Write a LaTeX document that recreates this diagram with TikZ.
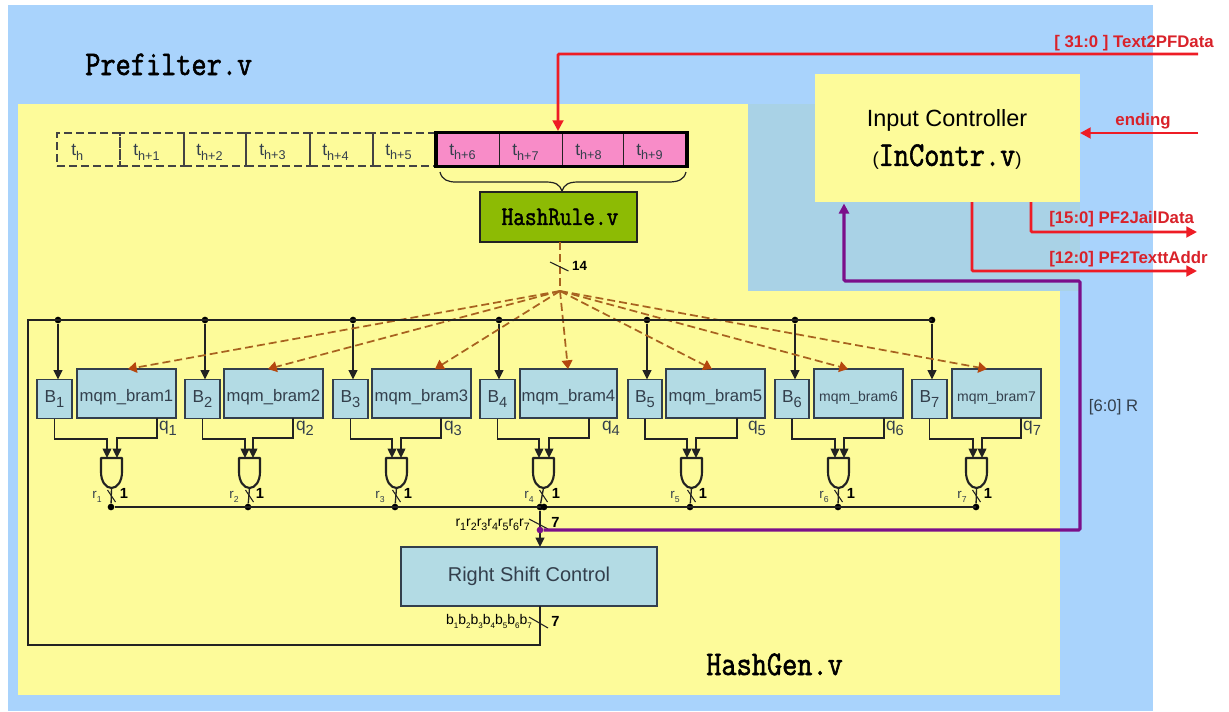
\documentclass[tikz,border=0pt]{standalone}
\usepackage{fontspec}
\setmainfont{Liberation Sans}
\newfontfamily\vfont[FakeBold=1.6,FakeStretch=0.85]{Latin Modern Mono}
\usetikzlibrary{arrows.meta}
\definecolor{bgblue}{HTML}{A9D3FC}
\definecolor{bgyellow}{HTML}{FDFB9A}
\definecolor{bgteal}{HTML}{A9D2E6}
\definecolor{boxteal}{HTML}{B3DBE4}
\definecolor{inkdark}{HTML}{333F4C}
\definecolor{wire}{HTML}{222222}
\definecolor{redline}{HTML}{EE1C25}
\definecolor{redtext}{HTML}{D9222A}
\definecolor{purp}{HTML}{7B0F8A}
\definecolor{brownline}{HTML}{A8621F}
\definecolor{brownhead}{HTML}{B5470E}
\definecolor{pinkcell}{HTML}{F88CC8}
\definecolor{hashgreen}{HTML}{8DBB04}
\newcommand\fs[1]{\fontsize{#1}{#1}\selectfont}
\newcommand\sbb[3]{#1\raisebox{-0.28em}{\fs{#3}#2}}
\newcommand\pxbox[6]{%
  \pgfmathsetmacro\cxx{(#2+#4)/2}\pgfmathsetmacro\cyy{(#3+#5)/2}%
  \node[inner sep=0pt,outer sep=0pt,#6,minimum width={(#4-#2)*0.75pt},minimum height={(#5-#3)*0.75pt}] (#1) at (\cxx,\cyy) {};}
\tikzset{
  tealbox/.style={draw=inkdark,line width=1pt,fill=boxteal,text=inkdark},
  cellbox/.style={draw=wire!85,line width=1.1pt,dash pattern=on 6pt off 3pt},
  pinkbox/.style={draw=wire,line width=0.6pt,fill=pinkcell},
  blk/.style={line width=1.2pt,draw=wire},
  thin wire/.style={line width=1pt,draw=wire},
  arr/.style={-{Triangle[length=7pt,width=6.5pt]}},
  dot/.style={circle,fill=black,inner sep=0pt,minimum size=5pt},
  fan/.style={line width=1.3pt,draw=brownline,dash pattern=on 6pt off 3pt,-{Triangle[length=6.5pt,width=8pt,color=brownhead]}},
  redw/.style={line width=2.1pt,draw=redline,rounded corners=0.8pt},
  redarr/.style={redw,-{Triangle[length=8pt,width=8pt]}},
  purw/.style={line width=2.3pt,draw=purp,rounded corners=1pt},
  redlab/.style={text=redtext,font=\fs{12.6pt}\bfseries,inner sep=0pt},
  lab/.style={text=inkdark,inner sep=0pt},
  blab/.style={text=black,font=\fs{11pt}\bfseries,inner sep=0pt},
  slash/.style={line width=0.8pt,draw=wire},
}
\begin{document}
\begin{tikzpicture}[x=0.75pt,y=-0.75pt]
\useasboundingbox (0,0) rectangle (1229,711);
\fill[white] (0,0) rectangle (1229,711);
% backgrounds
\fill[bgblue] (8,5) rectangle (1153,711);
\fill[bgteal] (748,104) rectangle (1080,291);
\fill[bgyellow] (18,104) rectangle (748,291);
\fill[bgyellow] (18,291) rectangle (1060,695);
\pxbox{inctl}{815}{74}{1080}{202}{fill=bgyellow}
\node[anchor=base west,inner sep=0pt] (tpre) at (85,75) {\vfont\fs{26pt}Prefilter.v};
\node[anchor=base west,inner sep=0pt] (thash) at (706,675) {\vfont\fs{26pt}HashGen.v};
\node[inner sep=0pt] (t1) at (947,120) {\fs{17.6pt}Input Controller};
\node[inner sep=0pt] (t2) at (947,157) {\fs{14pt}(\vfont\fs{26pt}InContr.v\fs{14pt}\normalfont)};
% tape cells
\foreach \i/\xa/\xb in {0/57/120,1/120/184,2/184/246,3/246/310,4/310/373,5/373/436}{
  \pxbox{c\i}{\xa}{133}{\xb}{166}{cellbox}
}
\foreach \i/\xa/\xb in {6/436/499,7/499/562,8/562/623,9/623/687}{
  \pxbox{c\i}{\xa}{133}{\xb}{166}{pinkbox}
}
\pxbox{win}{436}{132.5}{687}{166.5}{draw=black,line width=2.4pt}
\foreach \n/\x/\s in {l0/71/h,l1/133/h+1,l2/196/h+2,l3/259/h+3,l4/322/h+4,l5/385/h+5,l6/449/h+6,l7/512/h+7,l8/575/h+8,l9/636/h+9}{
  \node[lab,anchor=west] (\n) at (\x,152) {\fs{13pt}\sbb{t}{\s}{9.5pt}};
}
% brace
\draw[line width=0.9pt,draw=wire] (440,172) .. controls (442,180) and (448,182) .. (456,182) -- (546,182) .. controls (556,182) and (560,185) .. (562,191) .. controls (564,185) and (568,182) .. (578,182) -- (668,182) .. controls (678,182) and (684,180) .. (686,172);
% hash rule
\pxbox{hr}{480}{192}{637}{242}{fill=hashgreen,draw=wire,line width=0.9pt}
\node[inner sep=0pt] (thr) at (560,217) {\vfont\fs{20pt}HashRule.v};
% fan-out
\coordinate (fo) at (560,291);
\draw[line width=1pt,draw=brownline,dash pattern=on 6pt off 3pt] (hr.south -| fo) -- (fo);
\coordinate (s14a) at (550,262); \coordinate (s14b) at (568.5,271);
\draw[slash] (s14a) -- (s14b);
\node[blab,font=\fs{10pt}\bfseries] (l14) at (579.5,266) {14};
% top bus
\coordinate (busL) at (28,320);
\coordinate (busR) at (932,320);
\coordinate (rbL) at (111,507);
\coordinate (rbR) at (976,507);
% boxes, gates
\foreach \i/\bxl/\bxr/\mxl/\mxr/\qx/\gc/\ia/\ib/\dx/\ql/\rl/\ol/\sz in {
 1/37/72/77/176/157/111.5/107/117/111/168/97/124/12.5pt,
 2/185/220/224/323/293/249.5/245/253/248/305/234/260/12.5pt,
 3/333/368/372/471/441/396.5/392/401/395/453/380/408/12.5pt,
 4/480/515/520/617/589/543.5/539/549/540/611/529/556/12.5pt,
 5/628/662/666/765/737/691.5/687/696/690/757/675/703/12.5pt,
 6/775/809/814/903/884/838.5/835/844/838/895/824/851/10.5pt,
 7/912/947/952/1041/1021/976.5/973/982/976/1032/962/988/10.5pt}{
  \pxbox{b\i}{\bxl}{379.5}{\bxr}{418.5}{tealbox}
  \pxbox{m\i}{\mxl}{369}{\mxr}{418}{tealbox}
  \node[lab] (tb\i) at (b\i) {\fs{13pt}\sbb{B}{\i}{11pt}};
  \node[lab] (tm\i) at ([yshift=-3pt]m\i) {\fs{\sz}mqm\_bram\i};
  \node[lab] (tq\i) at (\ql,428) {\fs{13pt}\sbb{q}{\i}{11pt}};
  \pgfmathsetmacro\gl{\gc-10.5}\pgfmathsetmacro\gr{\gc+10.5}
  \pxbox{g\i}{\gl}{458}{\gr}{488}{}
  \draw[line width=1.6pt,draw=wire,line join=round] (g\i.north west) -- (g\i.north east) -- ++(0,14) .. controls ++(0,9) and ++(6,0) .. (g\i.south) .. controls ++(-6,0) and ++(0,9) .. ([yshift=-10.5pt]g\i.north west) -- cycle;
  \coordinate (ja\i) at (\ia,439);
  \coordinate (jb\i) at (\ib,438);
  \coordinate (ia\i) at (\ia,458);
  \coordinate (ib\i) at (\ib,458);
  \coordinate (mo\i) at (\qx,418);
  \draw[thin wire,arr] (b\i.south) |- (ja\i) -- (ia\i);
  \draw[thin wire,arr] (mo\i) |- (jb\i) -- (ib\i);
  \node[dot] (rd\i) at (\dx,507) {};
  \draw[thin wire] (g\i.south) -- (rd\i);
  \pgfmathsetmacro\sxa{\gc-4}\pgfmathsetmacro\sxb{\gc+4}
  \coordinate (rsa\i) at (\sxa,490); \coordinate (rsb\i) at (\sxb,502);
  \draw[slash] (rsa\i) -- (rsb\i);
  \node[lab] (tr\i) at (\rl,497) {\fs{10pt}\sbb{r}{\i}{6.5pt}};
  \node[blab] (to\i) at (\ol,493) {1};
}
% top bus with drops
\foreach \i/\x in {1/58,2/205,3/353,4/499,5/647,6/795,7/932}{
  \node[dot] (bd\i) at (\x,320) {};
  \draw[blk,arr] (bd\i) -- (bd\i |- b\i.north);
}
% fan arrows
\foreach \i/\x in {1/128,2/268,3/435,4/568,5/712,6/848,7/987}{
  \coordinate (ft\i) at (\x,369);
  \draw[fan] (fo) -- (ft\i);
}
% lower bus
\draw[line width=1.5pt,draw=wire] (rd1) -- (rbR);
\node[dot] (rdx) at (544,507) {};
% right shift control
\pxbox{rsc}{401}{547}{657}{606}{tealbox}
\node[lab] (trsc) at (rsc) {\fs{15pt}Right Shift Control};
\coordinate (rsct) at (540,547);
\coordinate (rscb) at (540,606);
\coordinate (rscc) at (540,645);
\draw[blk,arr] (rd4) -- (rsct);
\draw[line width=1.5pt,draw=wire] (rscb) -- (rscc) -| (busL) -- (busR);
\coordinate (s7a) at (529,519); \coordinate (s7b) at (548,529);
\draw[slash] (s7a) -- (s7b);
\coordinate (s8a) at (529,617); \coordinate (s8b) at (548,628);
\draw[slash] (s8a) -- (s8b);
\node[blab] (l7a) at (555.5,522) {7};
\node[blab] (l7b) at (555.5,621) {7};
\node[lab,anchor=east,text=black] (tr17) at (530,525) {\fs{10.5pt}\sbb{r}{1}{8pt}\sbb{r}{2}{8pt}\sbb{r}{3}{8pt}\sbb{r}{4}{8pt}\sbb{r}{5}{8pt}\sbb{r}{6}{8pt}\sbb{r}{7}{8pt}};
\node[lab,anchor=east,text=black] (tb17) at (532,621) {\fs{10.5pt}\sbb{b}{1}{6pt}\sbb{b}{2}{6pt}\sbb{b}{3}{6pt}\sbb{b}{4}{6pt}\sbb{b}{5}{6pt}\sbb{b}{6}{6pt}\sbb{b}{7}{6pt}};
% purple feedback
\node[circle,fill=purp,inner sep=0pt,minimum size=5pt] (pd) at (540,530) {};
\coordinate (pc) at (1080,530);
\coordinate (pt) at (1080,281);
\coordinate (pi) at (844,203.5);
\draw[purw,-{Triangle[length=7.5pt,width=7.5pt]}] (pd) -- (pc) -- (pt) -- (pi |- pt) -- (pi);
\node[lab] (tR) at (1113.5,407) {\fs{12.5pt}[6:0] R};
% red lines
\coordinate (ri) at (1198,54);
\coordinate (rt) at (558,131);
\draw[redarr] (ri) -| (rt);
\node[redlab,anchor=east] (tt) at (1214,43) {[ 31:0 ] Text2PFData};
\coordinate (re) at (1198,133);
\draw[redarr] (re) -- (inctl.east |- re);
\node[redlab] (ten) at (1143,121) {ending};
\coordinate (rj0) at (1031,202);
\coordinate (rj) at (1197,232);
\draw[redarr] (rj0) |- (rj);
\node[redlab,anchor=west] (tj) at (1049,219.5) {[15:0] PF2JailData};
\coordinate (ra0) at (972,202);
\coordinate (ra) at (1197,271);
\draw[redarr] (ra0) |- (ra);
\node[redlab,anchor=west] (tad) at (1049,259) {[12:0] PF2TexttAddr};
\end{tikzpicture}
\end{document}
